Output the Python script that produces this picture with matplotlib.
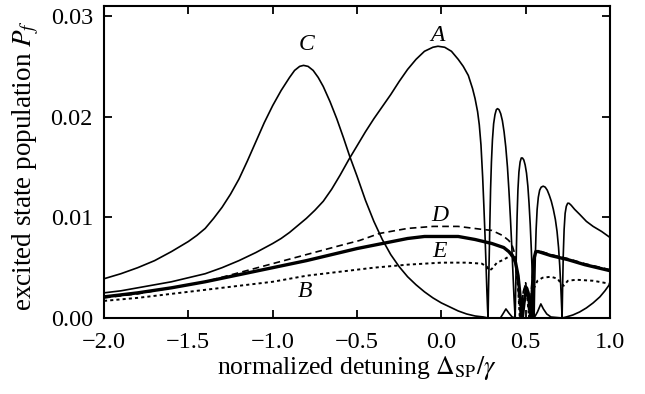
import matplotlib
matplotlib.use("Agg")
import matplotlib.pyplot as plt

plt.rcParams['font.family'] = ['Liberation Serif', 'DejaVu Serif']
plt.rcParams['mathtext.fontset'] = 'stix'

# curve A (thin solid)
a_x = [-2.0, -1.9, -1.8, -1.7, -1.6, -1.5, -1.4, -1.3, -1.2, -1.1, -1.0, -0.95,
       -0.9, -0.85, -0.8, -0.75, -0.7, -0.65, -0.6, -0.55, -0.5, -0.45, -0.4,
       -0.35, -0.3, -0.25, -0.2, -0.15, -0.1, -0.05, -0.02, 0.02, 0.06, 0.10,
       0.13, 0.16, 0.185, 0.20, 0.215, 0.225, 0.235, 0.245, 0.252, 0.259, 0.265,
       0.270, 0.274, 0.277,
       0.280, 0.284, 0.288, 0.292, 0.297, 0.303, 0.310, 0.318, 0.326, 0.333,
       0.342, 0.352, 0.362, 0.372, 0.382, 0.392, 0.401, 0.410, 0.418, 0.425,
       0.431, 0.436, 0.438,
       0.441, 0.445, 0.449, 0.454, 0.460, 0.467, 0.474, 0.481, 0.489, 0.497,
       0.505, 0.513, 0.520, 0.527, 0.533, 0.539, 0.544, 0.548, 0.550,
       0.553, 0.557, 0.562, 0.568, 0.575, 0.583, 0.592, 0.604, 0.616, 0.628,
       0.640, 0.652, 0.664, 0.676, 0.686, 0.695, 0.702, 0.708, 0.713, 0.716,
       0.719, 0.723, 0.728, 0.734, 0.741, 0.749, 0.757, 0.770, 0.790, 0.820,
       0.860, 0.900, 0.950, 1.0]
a_y = [0.0025, 0.0027, 0.0030, 0.0033, 0.0036, 0.0040, 0.0044, 0.0050, 0.0057,
       0.0065, 0.0074, 0.0079, 0.0085, 0.0092, 0.0099, 0.0107, 0.0116, 0.0128,
       0.0142, 0.0157, 0.0171, 0.0185, 0.0198, 0.0210, 0.0222, 0.0235, 0.0247,
       0.0257, 0.0265, 0.0269, 0.0270, 0.0269, 0.0265, 0.0257, 0.0250, 0.0241,
       0.0228, 0.0218, 0.0205, 0.0192, 0.0172, 0.0140, 0.0112, 0.0082, 0.0053,
       0.0027, 0.0010, 0.0,
       0.0030, 0.0062, 0.0097, 0.0128, 0.0155, 0.0177, 0.0193, 0.0202, 0.0207,
       0.0208, 0.0207, 0.0203, 0.0196, 0.0185, 0.0170, 0.0150, 0.0126, 0.0098,
       0.0070, 0.0043, 0.0020, 0.0005, 0.0,
       0.0030, 0.0068, 0.0100, 0.0127, 0.0145, 0.0155, 0.0159, 0.0159, 0.0157,
       0.0152, 0.0144, 0.0131, 0.0114, 0.0093, 0.0070, 0.0045, 0.0023, 0.0007,
       0.0,
       0.0030, 0.0060, 0.0088, 0.0108, 0.0120, 0.0127, 0.0130, 0.0131, 0.0130,
       0.0127, 0.0122, 0.0116, 0.0108, 0.0098, 0.0086, 0.0070, 0.0052, 0.0032,
       0.0012, 0.0,
       0.0030, 0.0063, 0.0088, 0.0104, 0.0111, 0.0114, 0.0114, 0.0112, 0.0108,
       0.0103, 0.0096, 0.0091, 0.0086, 0.0080]

# curve C (thin solid)
c_x = [-2.0, -1.9, -1.8, -1.7, -1.6, -1.5, -1.45, -1.4, -1.35, -1.3, -1.25, -1.2,
       -1.15, -1.1, -1.05, -1.0, -0.95, -0.9, -0.87, -0.84, -0.817, -0.79, -0.76,
       -0.73, -0.70, -0.66, -0.62, -0.58, -0.544, -0.5, -0.45, -0.40, -0.35,
       -0.30, -0.25, -0.20, -0.15, -0.10, -0.05, 0.0, 0.05, 0.10, 0.15, 0.20,
       0.25, 0.278,
       0.35, 0.365, 0.383, 0.40, 0.42, 0.438, 0.55, 0.57, 0.59, 0.605, 0.625,
       0.65, 0.716, 0.74, 0.78, 0.82, 0.86, 0.90, 0.94, 0.97, 1.0]
c_y = [0.0039, 0.0044, 0.0050, 0.0057, 0.0066, 0.0076, 0.0082, 0.0089, 0.0099,
       0.0110, 0.0123, 0.0138, 0.0156, 0.0175, 0.0194, 0.0211, 0.0226, 0.0239,
       0.0246, 0.0250, 0.0251, 0.0250, 0.0246, 0.0239, 0.0230, 0.0215, 0.0198,
       0.0179, 0.0161, 0.0141, 0.0117, 0.0096, 0.0078, 0.0063, 0.0051, 0.0041,
       0.0033, 0.0026, 0.0020, 0.0015, 0.0011, 0.0007, 0.0004, 0.0002, 0.0001,
       0.0,
       0.0, 0.0004, 0.0009, 0.0005, 0.0001, 0.0, 0.0, 0.0006, 0.0014, 0.0009,
       0.0004, 0.0001, 0.0, 0.0001, 0.0003, 0.0006, 0.0010, 0.0015, 0.0021,
       0.0027, 0.0034]

# curve D (dashed)
d_x = [-2.0, -1.8, -1.6, -1.4, -1.2, -1.0, -0.8, -0.6, -0.485, -0.367, -0.2,
       -0.05, 0.1, 0.244, 0.3, 0.363, 0.40, 0.42, 0.435, 0.448, 0.46, 0.47,
       0.485, 0.50, 0.512, 0.522, 0.535, 0.548, 0.56, 0.575, 0.65, 0.75, 0.85,
       0.95, 1.0]
d_y = [0.0020, 0.0024, 0.0030, 0.0036, 0.0045, 0.0054, 0.0063, 0.0072, 0.0077,
       0.0084, 0.0089, 0.0091, 0.0091, 0.0088, 0.0087, 0.0082, 0.0077, 0.0072,
       0.0064, 0.0045, 0.0020, 0.0, 0.0025, 0.0035, 0.0020, 0.0, 0.0030, 0.0058,
       0.0066, 0.0067, 0.0063, 0.0059, 0.0054, 0.0050, 0.0048]

# curve E (thick solid)
e_x = [-2.0, -1.8, -1.6, -1.4, -1.2, -1.0, -0.8, -0.6, -0.5, -0.35, -0.2, -0.1,
       0.0, 0.1, 0.2, 0.3, 0.37, 0.40, 0.425, 0.44, 0.455, 0.468, 0.48, 0.49,
       0.505, 0.515, 0.525, 0.533, 0.54, 0.548, 0.56, 0.575, 0.65, 0.75, 0.85,
       0.95, 1.0]
e_y = [0.0021, 0.0025, 0.0030, 0.0036, 0.0043, 0.0050, 0.0057, 0.0065, 0.0069,
       0.0074, 0.0079, 0.0081, 0.0081, 0.0081, 0.0078, 0.0074, 0.0070, 0.0066,
       0.0061, 0.0055, 0.0042, 0.0020, 0.0, 0.0015, 0.0030, 0.0025, 0.0010, 0.0,
       0.0030, 0.0058, 0.0066, 0.0066, 0.0062, 0.0058, 0.0053, 0.0049, 0.0047]

# curve B (dotted)
b_x = [-2.0, -1.8, -1.6, -1.4, -1.2, -1.0, -0.8, -0.6, -0.4, -0.2, 0.0, 0.15,
       0.24, 0.27, 0.285, 0.30, 0.33, 0.37, 0.40, 0.425, 0.44, 0.455, 0.465,
       0.48, 0.495, 0.51, 0.52, 0.535, 0.55, 0.57, 0.60, 0.65, 0.69, 0.71,
       0.725, 0.75, 0.80, 0.90, 1.0]
b_y = [0.0017, 0.0020, 0.0024, 0.0028, 0.0032, 0.0036, 0.0042, 0.0046, 0.0050,
       0.0053, 0.0055, 0.0055, 0.0054, 0.0051, 0.0047, 0.0049, 0.0055, 0.0058,
       0.0061, 0.0063, 0.0055, 0.0030, 0.0, 0.0020, 0.0032, 0.0020, 0.0, 0.0015,
       0.0030, 0.0037, 0.0040, 0.0041, 0.0039, 0.0034, 0.0032, 0.0037, 0.0038,
       0.0037, 0.0034]

labels = ['A', 'C', 'D', 'E', 'B']
label_pos = [(-0.02, 0.0281), (-0.80, 0.0272), (-0.01, 0.0102), (-0.01, 0.0066),
             (-0.81, 0.0026)]

fig = plt.figure(figsize=(6.45, 3.94), dpi=100)
ax = fig.add_axes([104 / 645, 76 / 394, 506 / 645, 312 / 394])

ax.plot(a_x, a_y, color='black', lw=1.2)
ax.plot(c_x, c_y, color='black', lw=1.2)
ax.plot(d_x, d_y, color='black', lw=1.2, dashes=(4, 2.5))
ax.plot(b_x, b_y, color='black', lw=1.4, dashes=(1.6, 1.6))
ax.plot(e_x, e_y, color='black', lw=2.4)

for lab, (x, y) in zip(labels, label_pos):
    ax.text(x, y, lab, fontsize=17, fontstyle='italic', ha='center', va='center')

ax.set_xlim(-2.0, 1.0)
ax.set_ylim(0, 0.031)
ax.set_xticks([-2.0, -1.5, -1.0, -0.5, 0.0, 0.5, 1.0])
ax.set_yticks([0.0, 0.01, 0.02, 0.03])
ax.set_xticklabels(['\u22122.0', '\u22121.5', '\u22121.0', '\u22120.5', '0.0', '0.5', '1.0'])
ax.set_yticklabels(['0.00', '0.01', '0.02', '0.03'])
ax.tick_params(direction='in', top=True, right=True, length=6, width=1.3,
               labelsize=17.5)
ax.tick_params(axis='x', pad=10)
ax.tick_params(axis='y', pad=8)
for s in ax.spines.values():
    s.set_linewidth(1.5)

ax.set_xlabel(r'normalized detuning $\Delta_{\rm SP}/\gamma$', fontsize=18.5, labelpad=1)
ax.set_ylabel(r'excited state population $P_f$', fontsize=19.5)
ax.yaxis.set_label_coords(-0.124, 0.49)

fig.savefig('out.png', dpi=100)
